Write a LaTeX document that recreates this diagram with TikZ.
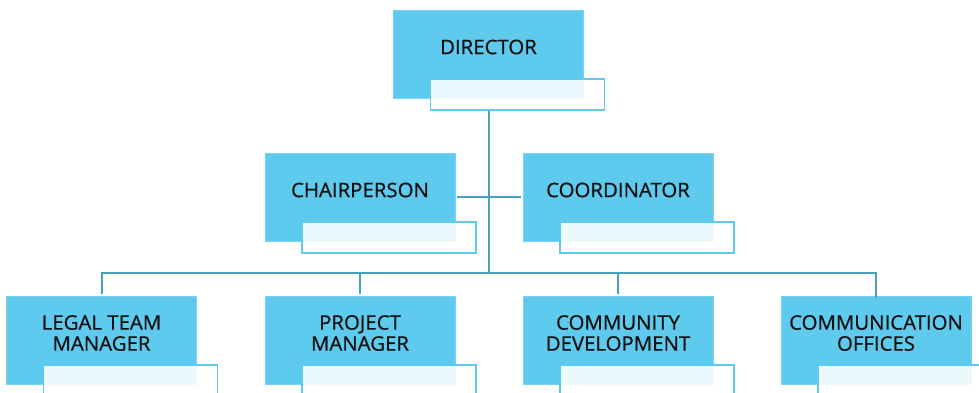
\documentclass[tikz,border=0pt]{standalone}
\usepackage{fontspec}
\setmainfont[FakeStretch=1.02, FakeBold=0.8]{Open Sans}
\definecolor{boxblue}{HTML}{5ECBEE}
\definecolor{boxedge}{HTML}{7AD4F1}
\definecolor{linecol}{HTML}{4A9FC0}
\definecolor{txt}{HTML}{111111}
\tikzset{
  bluebox/.style={rectangle, fill=boxblue, draw=boxedge, line width=0.6bp, inner sep=0pt, minimum width=190bp, minimum height=88bp},
  whitebox/.style={rectangle, fill=white, fill opacity=0.88, draw=boxblue, line width=1.6bp, inner sep=0pt, minimum width=174bp, minimum height=31bp},
  label/.style={text=txt, font=\fontsize{20bp}{21bp}\selectfont, align=center, inner sep=0pt},
  conn/.style={draw=linecol, line width=2bp}
}
\begin{document}
\begin{tikzpicture}[x=1bp,y=-1bp]
\useasboundingbox (0,0) rectangle (979,392);
\clip (0,0) rectangle (979,392);
\fill[white] (0,0) rectangle (979,392);
\coordinate (busc) at (488.5,273);
% director
\node[bluebox] (d) at (488.5,54) {};
\node[whitebox] (dw) at (517.5,94.5) {};
% second row
\node[bluebox] (c1) at (360,197) {};
\node[whitebox] (c1w) at (389,237.5) {};
\node[bluebox] (c2) at (618,197) {};
\node[whitebox] (c2w) at (647,237.5) {};
% bottom row
\node[bluebox] (b1) at (101.5,340) {};
\node[whitebox] (b1w) at (130.5,380.5) {};
\node[bluebox] (b2) at (360,340) {};
\node[whitebox] (b2w) at (389,380.5) {};
\node[bluebox] (b3) at (618,340) {};
\node[whitebox] (b3w) at (647,380.5) {};
\node[bluebox] (b4) at (876,340) {};
\node[whitebox] (b4w) at (905,380.5) {};
% connectors
\draw[conn] (d.center |- dw.south) -- (busc);
\draw[conn, shorten <=2bp, shorten >=2bp] (c1.east) -- (c2.west);
\draw[conn, shorten <=2bp] (b1.north) |- (busc) -| ([yshift=-2bp]b4.north);
\draw[conn, shorten <=2bp] (b2.north) -- (b2.north |- busc);
\draw[conn, shorten <=2bp] (b3.north) -- (b3.north |- busc);
% labels
\node[label] (dt) at (488.5,47) {DIRECTOR};
\node[label] (c1t) at (360,190) {CHAIRPERSON};
\node[label] (c2t) at (618,190) {COORDINATOR};
\node[label] (b1t) at (101.5,333) {LEGAL TEAM\\MANAGER};
\node[label] (b2t) at (360,333) {PROJECT\\MANAGER};
\node[label] (b3t) at (618,333) {COMMUNITY\\DEVELOPMENT};
\node[label] (b4t) at (876,333) {COMMUNICATION\\OFFICES};
\end{tikzpicture}
\end{document}
